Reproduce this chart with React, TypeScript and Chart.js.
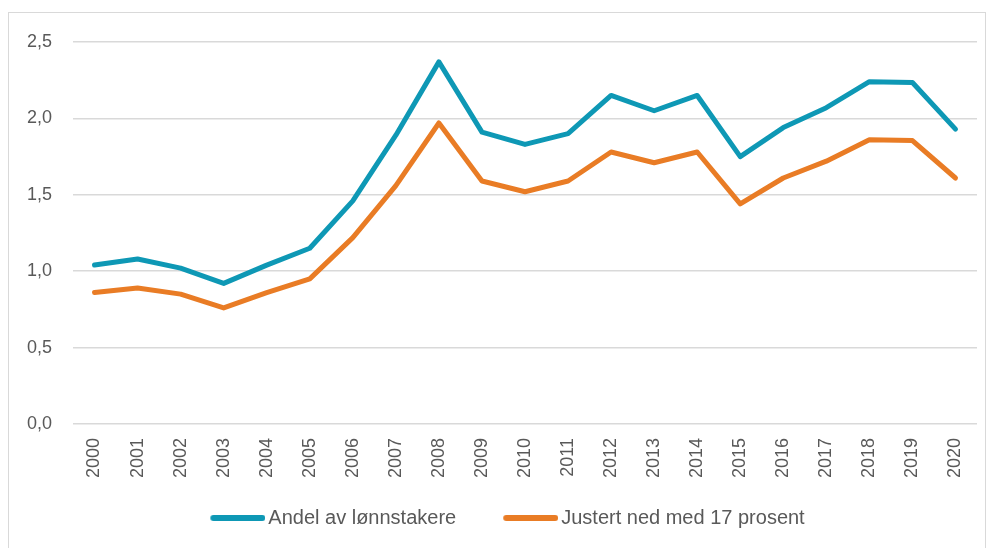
import React, { useEffect, useRef } from "react";
import { Chart, registerables } from "chart.js";

Chart.register(...registerables);

const years = ["2000","2001","2002","2003","2004","2005","2006","2007","2008","2009","2010","2011","2012","2013","2014","2015","2016","2017","2018","2019","2020"];
const andelAvLonnstakere = [1.04,1.08,1.02,0.92,1.04,1.15,1.46,1.89,2.37,1.91,1.83,1.90,2.15,2.05,2.15,1.75,1.94,2.07,2.24,2.235,1.93];
const justertNed17 = [0.86,0.89,0.85,0.76,0.86,0.95,1.22,1.56,1.97,1.59,1.52,1.59,1.78,1.71,1.78,1.44,1.61,1.72,1.86,1.855,1.61];
const seriesNames = ["Andel av lønnstakere", "Justert ned med 17 prosent"];
const seriesColors = ["#0E98B5", "#E97C25"];

const FONT = "'Liberation Sans', Arial, sans-serif";

function makeLegendLine(color: string): HTMLCanvasElement {
  const c = document.createElement("canvas");
  c.width = 62;
  c.height = 8;
  const ctx = c.getContext("2d")!;
  ctx.strokeStyle = color;
  ctx.lineWidth = 6;
  ctx.lineCap = "round";
  ctx.beginPath();
  ctx.moveTo(10, 4);
  ctx.lineTo(59, 4);
  ctx.stroke();
  return c;
}

const legendShift = {
  id: "legendShift",
  afterLayout(chart: any) {
    const lg = chart.legend;
    if (lg) {
      const h = lg.bottom - lg.top;
      lg.left = 29;
      lg.top = 448;
      lg.bottom = 448 + h;
    }
  },
};

export default function App() {
  const ref = useRef<HTMLCanvasElement>(null);
  useEffect(() => {
    if (!ref.current) return;
    const legendImgs = seriesColors.map(makeLegendLine);
    const chart = new Chart(ref.current, {
      type: "line",
      data: {
        labels: years,
        datasets: [
          {
            label: seriesNames[0],
            data: andelAvLonnstakere,
            borderColor: seriesColors[0],
            backgroundColor: seriesColors[0],
            borderWidth: 5,
            pointRadius: 0,
            tension: 0,
            borderCapStyle: "round",
            borderJoinStyle: "round",
          },
          {
            label: seriesNames[1],
            data: justertNed17,
            borderColor: seriesColors[1],
            backgroundColor: seriesColors[1],
            borderWidth: 5,
            pointRadius: 0,
            tension: 0,
            borderCapStyle: "round",
            borderJoinStyle: "round",
          },
        ],
      },
      plugins: [legendShift],
      options: {
        responsive: false,
        animation: false,
        layout: { padding: { top: 29, right: 8, left: 0, bottom: 0 } },
        plugins: {
          tooltip: { enabled: false },
          legend: {
            position: "bottom",
            labels: {
              usePointStyle: true,
              pointStyleWidth: 48,
              padding: 47,
              color: "#595959",
              font: { family: FONT, size: 20 },
              generateLabels: (chart: any) => {
                const items = Chart.defaults.plugins.legend.labels.generateLabels(chart);
                items.forEach((it: any, i: number) => {
                  it.pointStyle = legendImgs[i];
                });
                return items;
              },
            },
          },
        },
        scales: {
          x: {
            offset: true,
            grid: { display: false, drawTicks: false },
            border: { display: false },
            ticks: {
              minRotation: 90,
              maxRotation: 90,
              padding: 14,
              autoSkip: false,
              color: "#595959",
              font: { family: FONT, size: 18 },
            },
            afterFit: (s: any) => {
              s.height = 59;
              s.paddingLeft = 0;
              s.paddingRight = 0;
            },
          },
          y: {
            min: 0,
            max: 2.5,
            border: { display: false },
            grid: { color: "#d9d9d9", lineWidth: 1.5, drawTicks: false },
            ticks: {
              stepSize: 0.5,
              padding: 21,
              color: "#595959",
              font: { family: FONT, size: 18 },
              callback: (v: any) => Number(v).toFixed(1).replace(".", ","),
            },
            afterFit: (s: any) => {
              s.width = 64;
              s.paddingTop = 0;
              s.paddingBottom = 0;
            },
          },
        },
      },
    });
    return () => chart.destroy();
  }, []);
  return (
    <div
      style={{
        marginTop: 4,
        width: 978,
        height: 545,
        border: "1px solid #d9d9d9",
        boxSizing: "border-box",
        background: "#fff",
        overflow: "hidden",
      }}
    >
      <canvas ref={ref} width={976} height={547} style={{ display: "block" }} />
    </div>
  );
}
